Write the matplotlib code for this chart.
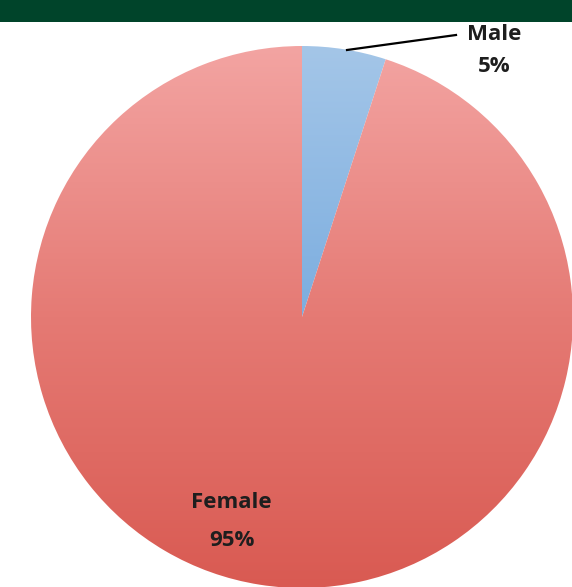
import numpy as np
import matplotlib
matplotlib.use("Agg")
import matplotlib.pyplot as plt
from matplotlib.colors import LinearSegmentedColormap
from matplotlib.patches import Rectangle

labels = ["Male", "Female"]
values = [5, 95]
pct_labels = ["5%", "95%"]

W, H = 572, 587
fig = plt.figure(figsize=(W / 100, H / 100), dpi=100)
ax = fig.add_axes([0, 0, 1, 1])

cx, cy, r = 302, H - 317, 271
wedges, _ = ax.pie(values, startangle=90, counterclock=False, center=(cx, cy),
                   radius=r, frame=True, wedgeprops=dict(linewidth=0))

grads = [
    LinearSegmentedColormap.from_list("b", ["#5495d6", "#a4c6e8"]),
    LinearSegmentedColormap.from_list("r", ["#d95a52", "#e57a74", "#f3a4a2"]),
]
grad = np.linspace(0, 1, 256).reshape(-1, 1)
for w, cm in zip(wedges, grads):
    w.set_facecolor("none")
    im = ax.imshow(grad, cmap=cm, origin="lower", aspect="auto",
                   extent=(cx - r, cx + r, cy - r, cy + r), zorder=1)
    im.set_clip_path(w)

txt = dict(fontfamily="Open Sans", fontweight="bold", fontsize=16,
           color="#1e1e1e", ha="center", va="center")
ax.text(494, H - 34, labels[0], **txt)
ax.text(494, H - 67, pct_labels[0], **txt)
ax.text(231, H - 503, labels[1], **txt)
ax.text(232, H - 541, pct_labels[1], **txt)
ax.plot([347, 456], [H - 50, H - 35], color="black", lw=1.6, zorder=3)

ax.set_xlim(0, W)
ax.set_ylim(0, H)
ax.set_aspect("equal")
ax.axis("off")

fig.patches.append(Rectangle((0, 1 - 22 / H), 1, 22 / H, transform=fig.transFigure,
                             facecolor="#00442a", edgecolor="none", zorder=5))

fig.savefig("out.png", dpi=100, facecolor="white")
